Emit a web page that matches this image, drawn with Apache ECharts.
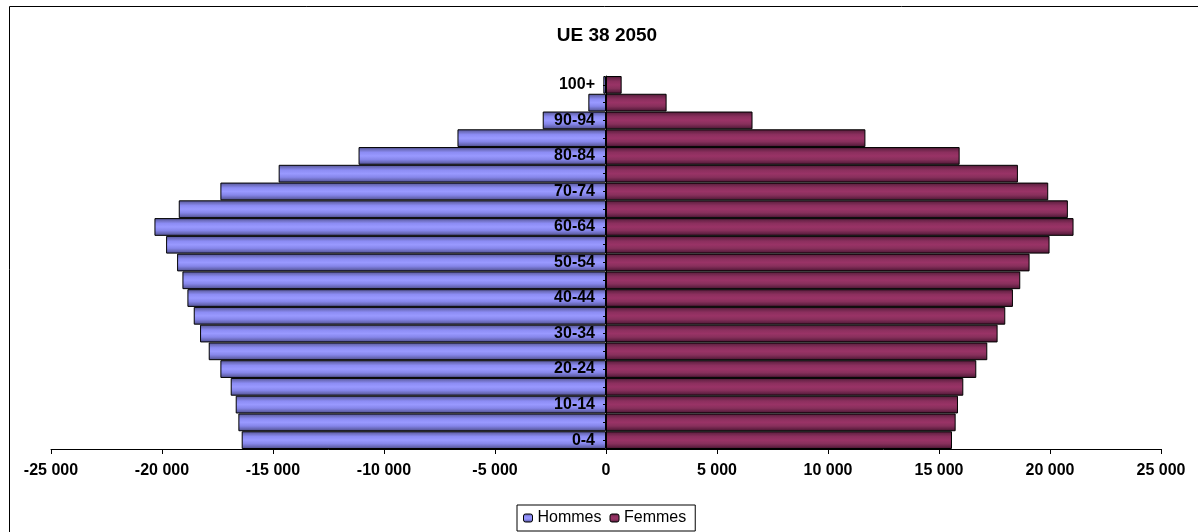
<!DOCTYPE html>
<html>
<head>
<meta charset="utf-8">
<script src="https://cdn.jsdelivr.net/npm/echarts@6/dist/echarts.min.js"></script>
<style>
html,body{margin:0;padding:0;background:#fff;}
#c{width:1198px;height:532px;}
</style>
</head>
<body>
<div id="c"></div>
<script>
const categories = ['0-4','5-9','10-14','15-19','20-24','25-29','30-34','35-39','40-44','45-49','50-54','55-59','60-64','65-69','70-74','75-79','80-84','85-89','90-94','95-99','100+'];
const hommes = [-16410,-16560,-16680,-16905,-17370,-17895,-18285,-18570,-18855,-19080,-19320,-19815,-20340,-19245,-17370,-14745,-11146,-6690,-2850,-795,-120];
const femmes = [15585,15750,15855,16095,16680,17175,17640,17985,18330,18660,19080,19980,21060,20805,19920,18555,15930,11685,6600,2730,705];
const xTicks = {min:-25000, max:25000, interval:5000};
const title = 'UE 38 2050';

const FONT = '"Liberation Sans", Arial, sans-serif';
const GRID = {left:51, right:37, top:76, bottom:83};
const W = 1198;
function grad(stops){
  return new echarts.graphic.LinearGradient(0,0,0,1, stops.map(s=>({offset:s[0],color:s[1]})));
}
const hCol = grad([[0,'#50508c'],[0.12,'#6a6ab8'],[0.3,'#8c8cf4'],[0.5,'#9999ff'],[0.7,'#8686ea'],[0.88,'#6464b0'],[1,'#484880']]);
const fCol = grad([[0,'#45162e'],[0.12,'#6a2448'],[0.3,'#8c2f5e'],[0.5,'#993366'],[0.7,'#88305c'],[0.88,'#622043'],[1,'#3e1329']]);

function fmt(v){
  const s = Math.abs(v).toString().replace(/\B(?=(\d{3})+(?!\d))/g,' ');
  return (v<0?'-':'') + s;
}

// offset of the category axis so that it sits on the value 0
const plotW = W - GRID.left - GRID.right;
const zeroOffset = -plotW * (0 - xTicks.min) / (xTicks.max - xTicks.min);

const chart = echarts.init(document.getElementById('c'), null, {renderer:'canvas'});
chart.setOption({
  animation:false,
  backgroundColor:'#fff',
  textStyle:{fontFamily:FONT},
  graphic:[{type:'rect',shape:{x:9.5,y:6.5,width:1200,height:540},style:{fill:null,stroke:'#000',lineWidth:1},silent:true,z:-10}],
  title:{text:title,left:602,textAlign:'center',top:21,textStyle:{fontFamily:FONT,fontSize:19,fontWeight:'bold',color:'#000'}},
  legend:{
    data:['Hommes','Femmes'],
    left:517, bottom:1,
    borderColor:'#000', borderWidth:1, padding:[5,9,5,6],
    itemWidth:9, itemHeight:8, itemGap:8,
    textStyle:{fontFamily:FONT,fontSize:16,color:'#000'},
    itemStyle:{borderColor:'#000',borderWidth:1}
  },
  grid:{left:GRID.left,right:GRID.right,top:GRID.top,bottom:GRID.bottom,containLabel:false},
  xAxis:{
    type:'value', min:xTicks.min, max:xTicks.max, interval:xTicks.interval,
    splitLine:{show:false},
    axisLine:{show:true,onZero:false,lineStyle:{color:'#000',width:1}},
    axisTick:{show:true,length:5,inside:false,lineStyle:{color:'#000'}},
    axisLabel:{formatter:fmt,fontFamily:FONT,fontSize:16,fontWeight:'bold',color:'#000',margin:14}
  },
  yAxis:{
    type:'category', data:categories, position:'left', offset:zeroOffset, z:10,
    axisLine:{show:true,onZero:false,lineStyle:{color:'#000',width:1}},
    axisTick:{show:true,alignWithLabel:true,length:3,interval:0,lineStyle:{color:'#000'}},
    axisLabel:{interval:1,fontFamily:FONT,fontSize:16,fontWeight:'bold',color:'#000',margin:11}
  },
  series:[
    {name:'Hommes',type:'bar',data:hommes,barGap:'-100%',barCategoryGap:0,
     itemStyle:{color:hCol,borderColor:'#000',borderWidth:1}},
    {name:'Femmes',type:'bar',data:femmes,barGap:'-100%',barCategoryGap:0,
     itemStyle:{color:fCol,borderColor:'#000',borderWidth:1}}
  ]
});
</script>
</body>
</html>
